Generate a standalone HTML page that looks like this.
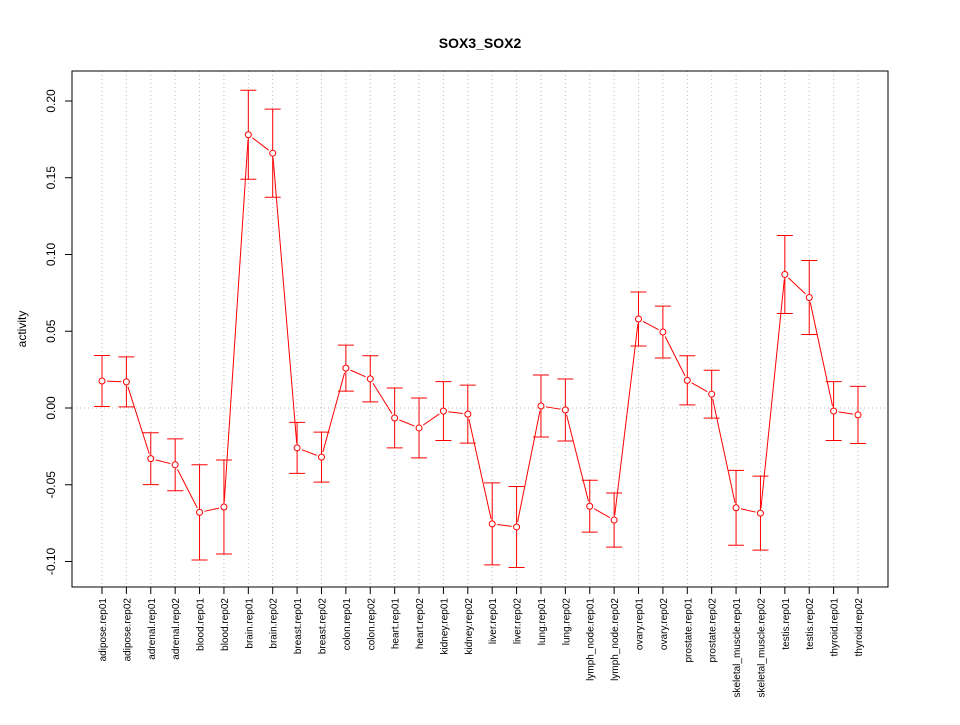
<!DOCTYPE html>
<html><head><meta charset="utf-8"><style>
body{margin:0;background:#fff;}
svg text{font-family:"Liberation Sans",Arial,sans-serif;}
</style></head><body>
<svg id="chart" width="960" height="720" xmlns="http://www.w3.org/2000/svg">
<rect width="960" height="720" fill="#fff"/>
<text x="480" y="48" text-anchor="middle" font-size="14" font-weight="bold">SOX3_SOX2</text>
<text transform="translate(26,329) rotate(-90)" text-anchor="middle" font-size="12">activity</text>
<g id="grid"></g><g id="axes"></g><g id="marks"></g>
<rect x="72" y="71" width="816" height="516" fill="none" stroke="#000"/>
</svg>
<script>
const categories=["adipose.rep01","adipose.rep02","adrenal.rep01","adrenal.rep02","blood.rep01","blood.rep02","brain.rep01","brain.rep02","breast.rep01","breast.rep02","colon.rep01","colon.rep02","heart.rep01","heart.rep02","kidney.rep01","kidney.rep02","liver.rep01","liver.rep02","lung.rep01","lung.rep02","lymph_node.rep01","lymph_node.rep02","ovary.rep01","ovary.rep02","prostate.rep01","prostate.rep02","skeletal_muscle.rep01","skeletal_muscle.rep02","testis.rep01","testis.rep02","thyroid.rep01","thyroid.rep02"];
const values=[0.0176,0.017,-0.033,-0.037,-0.068,-0.0645,0.178,0.166,-0.026,-0.032,0.026,0.019,-0.0065,-0.013,-0.002,-0.004,-0.0755,-0.0775,0.0013,-0.0013,-0.064,-0.073,0.058,0.0495,0.018,0.009,-0.065,-0.0685,0.087,0.072,-0.002,-0.0045];
const errors=[0.0166,0.0163,0.0169,0.0169,0.031,0.0306,0.029,0.0287,0.0166,0.0163,0.015,0.015,0.0195,0.0195,0.0192,0.0189,0.0267,0.0264,0.0202,0.0202,0.0169,0.0176,0.0176,0.0169,0.016,0.0156,0.0244,0.0241,0.0254,0.0241,0.0192,0.0186];
const yTicks=[-0.10,-0.05,0.00,0.05,0.10,0.15,0.20];
const yTickLabels=["-0.10","-0.05","0.00","0.05","0.10","0.15","0.20"];
const NS="http://www.w3.org/2000/svg";
const y=v=>408-v*1535;
const x=i=>102+i*(756/(categories.length-1));
function mk(tag,attrs,parent){const e=document.createElementNS(NS,tag);for(const k in attrs)e.setAttribute(k,attrs[k]);document.getElementById(parent).appendChild(e);return e;}
categories.forEach((c,i)=>{const l=mk('line',{x1:x(i),x2:x(i),y1:71,y2:587,stroke:'#bbb','stroke-dasharray':'1,3'},'grid');

});
const z=mk('line',{x1:72,x2:888,y1:y(0),y2:y(0),stroke:'#bbb','stroke-dasharray':'1,3'},'grid');


mk('line',{x1:72,x2:72,y1:y(yTicks[0]),y2:y(yTicks[yTicks.length-1]),stroke:'#000'},'axes');
yTicks.forEach((t,i)=>{mk('line',{x1:65,x2:72,y1:y(t),y2:y(t),stroke:'#000'},'axes');
const tx=mk('text',{transform:`translate(55,${y(t)}) rotate(-90)`,'text-anchor':'middle','font-size':'12'},'axes');tx.textContent=yTickLabels[i];

});
mk('line',{x1:x(0),x2:x(categories.length-1),y1:587,y2:587,stroke:'#000'},'axes');
categories.forEach((c,i)=>{mk('line',{x1:x(i),x2:x(i),y1:587,y2:594,stroke:'#000'},'axes');
const tx=mk('text',{transform:`translate(${x(i)+4},598) rotate(-90)`,'text-anchor':'end','font-size':'10'},'axes');tx.textContent=c;

});
for(let i=0;i<values.length-1;i++){
const x1=x(i),y1=y(values[i]),x2=x(i+1),y2=y(values[i+1]);
const d=Math.hypot(x2-x1,y2-y1),g=5;
if(d<=2*g)continue;
const ux=(x2-x1)/d,uy=(y2-y1)/d;
const s=mk('line',{x1:x1+ux*g,y1:y1+uy*g,x2:x2-ux*g,y2:y2-uy*g,stroke:'#ff0000','stroke-width':1},'marks');

}
values.forEach((v,i)=>{const X=x(i),a=y(v+errors[i]),b=y(v-errors[i]);
const g=mk('g',{stroke:'#ff0000',fill:'none'},'marks');


[[X,a,X,b],[X-8,a,X+8,a],[X-8,b,X+8,b]].forEach(p=>{const l=document.createElementNS(NS,'line');l.setAttribute('x1',p[0]);l.setAttribute('y1',p[1]);l.setAttribute('x2',p[2]);l.setAttribute('y2',p[3]);g.appendChild(l);});
const c=mk('circle',{cx:X,cy:y(v),r:3,fill:'#fff',stroke:'#ff0000'},'marks');

});
</script>
</body></html>
